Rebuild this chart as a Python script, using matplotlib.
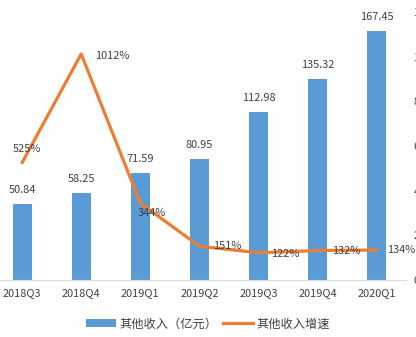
import matplotlib
matplotlib.use("Agg")
import matplotlib.pyplot as plt
from matplotlib.patches import Patch
from matplotlib.lines import Line2D

plt.rcParams['font.family'] = ['Noto Sans CJK SC', 'DejaVu Sans']

categories = ["2018Q3", "2018Q4", "2019Q1", "2019Q2", "2019Q3", "2019Q4", "2020Q1"]
revenue = [50.84, 58.25, 71.59, 80.95, 112.98, 135.32, 167.45]
growth = [525, 1012, 344, 151, 122, 132, 134]
growth_labels = ["525%", "1012%", "344%", "151%", "122%", "132%", "134%"]
right_ticks = [0, 200, 400, 600, 800, 1000, 1200]
right_tick_labels = ["0%", "200%", "400%", "600%", "800%", "1000%", "1200%"]

blue = "#5B9BD5"
orange = "#ED7D31"
txt = "#404040"
fs = 7.9

fig = plt.figure(figsize=(4.16, 3.37), dpi=100)
ax = fig.add_axes([-7.5/416, 1-280/337, 414/416, (280-12)/337])
x = list(range(len(categories)))
ax.bar(x, revenue, width=0.32, color=blue, zorder=2)
ax.set_xlim(-0.5, 6.5)
ax.set_ylim(0, 180)
ax.set_yticks([])
for s in ["left", "right", "top"]:
    ax.spines[s].set_visible(False)
ax.spines["bottom"].set_color("#d9d9d9")
ax.set_xticks(x)
ax.set_xticklabels(categories, fontsize=fs, color=txt)
ax.tick_params(axis='x', length=0, pad=6)
for xi, v in zip(x, revenue):
    ax.annotate(f"{v:.2f}", (xi, v), xytext=(0, 14), textcoords='offset pixels',
                ha='center', va='center', fontsize=fs, color=txt)

ax2 = ax.twinx()
ax2.set_ylim(0, 1200)
ax2.plot(x, growth, color=orange, lw=2.3, zorder=3, solid_capstyle='round')
ax2.set_yticks(right_ticks)
ax2.set_yticklabels(right_tick_labels, fontsize=fs, color=txt)
ax2.tick_params(axis='y', length=0, pad=5)
for s in ["left", "right", "top", "bottom"]:
    ax2.spines[s].set_visible(False)

offsets = [(5, 14, 'center'), (14, -2, 'left'), (-3, -10, 'left'), (14, 0, 'left'),
           (12, -1, 'left'), (14, 0, 'left'), (10, 0, 'left')]
for xi, v, lab, (dx, dy, ha) in zip(x, growth, growth_labels, offsets):
    ax2.annotate(lab, (xi, v), xytext=(dx, dy), textcoords='offset pixels',
                 ha=ha, va='center', fontsize=fs, color=txt, zorder=4)

handles = [Patch(facecolor=blue, edgecolor='none'), Line2D([0], [0], color=orange, lw=2.3)]
fig.legend(handles, ["其他收入（亿元）", "其他收入增速"], loc='center',
           bbox_to_anchor=(0.5, 1-324/337), ncol=2, frameon=False, fontsize=8.8,
           handlelength=2.4, handleheight=0.6, columnspacing=0.5, handletextpad=0.3,
           labelcolor=txt)

fig.savefig("out.png", dpi=100)
